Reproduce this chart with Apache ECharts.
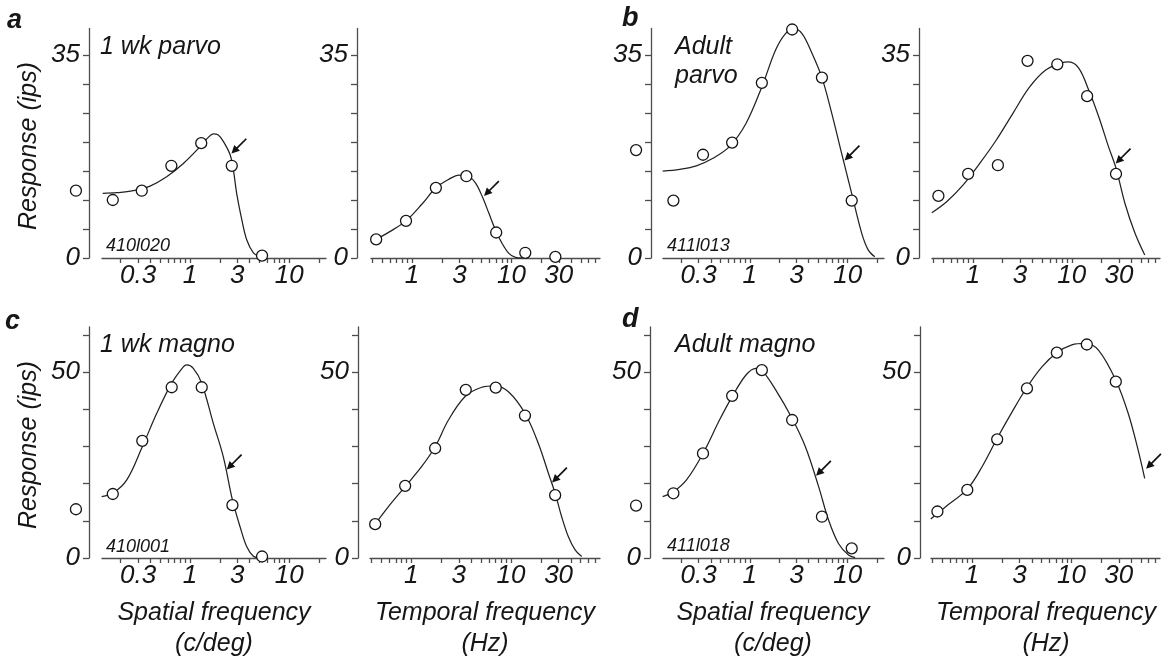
<!DOCTYPE html>
<html><head><meta charset="utf-8">
<script src="https://cdn.jsdelivr.net/npm/echarts@6/dist/echarts.min.js"></script>
<style>html,body{margin:0;padding:0;background:#fff}#c{width:1163px;height:663px}</style>
</head><body><div id="c"></div>
<script>
// ---------- axis ticks / labels ----------
const spatialTicks = [0.2,0.3,0.4,0.5,0.6,0.7,0.8,0.9,1,2,3,4,5,6,7,8,9,10,20];
const spatialLabels = [0.3,1,3,10];
const temporalTicks = [0.4,0.5,0.6,0.7,0.8,0.9,1,2,3,4,5,6,7,8,9,10,20,30,40,50,60,70];
const temporalLabels = [1,3,10,30];
const parvoYTicks = [0,5,10,15,20,25,30,35];
const parvoYLabels = [0,35];
const magnoYTicks = [0,10,20,30,40,50,60];
const magnoYLabels = [0,50];

// ---------- a: 1 wk parvo ----------
const aSpatialPts = [[0.167,10.0],[0.327,11.6],[0.65,15.9],[1.30,19.8],[2.64,15.9],[5.33,0.4]];
const aSpatialBlank = [[0.071,11.6]];
const aSpatialFit = [[0.132,11.15],[0.183,11.26],[0.269,11.6],[0.396,12.4],[0.583,14.0],[0.858,16.3],[1.264,19.2],[1.53,20.8],[1.72,21.4],[1.93,21.2],[2.17,20.1],[2.54,17.8],[2.74,15.2],[2.96,11.1],[3.33,6.6],[3.74,3.1],[4.36,0.9],[5.09,0.2]];
const aSpatialArrow = [[2.62,18.0]];
const aTemporalPts = [[0.435,3.2],[0.869,6.4],[1.736,12.1],[3.52,14.1],[7.03,4.4],[13.8,0.9],[27.7,0.2]];
const aTemporalFit = [[0.435,3.2],[0.591,4.5],[0.869,6.4],[1.274,9.4],[1.736,12.1],[2.36,13.6],[2.97,14.3],[3.74,14.0],[4.36,12.9],[5.09,10.6],[5.94,7.7],[6.93,4.8],[8.07,2.5],[9.42,0.8],[11.0,0.1],[12.8,0]];
const aTemporalArrow = [[5.3,10.7]];

// ---------- b: adult parvo ----------
const bSpatialPts = [[0.166,9.9],[0.333,17.8],[0.661,19.9],[1.329,30.2],[2.71,39.4],[5.46,31.1],[11.0,9.9]];
const bSpatialBlank = [[0.069,18.6]];
const bSpatialFit = [[0.129,15.0],[0.193,15.3],[0.285,15.9],[0.421,17.2],[0.62,19.2],[0.915,23.2],[1.329,29.5],[1.84,35.9],[2.32,38.7],[2.82,39.5],[3.42,38.7],[4.32,35.3],[5.46,31.1],[6.89,24.9],[8.69,18.0],[11.0,11.1],[13.9,4.3],[16.2,1.4],[18.9,0.2]];
const bSpatialArrow = [[9.3,16.8]];
const bTemporalPts = [[0.448,10.7],[0.895,14.5],[1.79,16.0],[3.57,34.0],[7.14,33.4],[14.3,27.9],[28.0,14.5]];
const bTemporalFit = [[0.384,7.8],[0.543,9.7],[0.798,12.6],[1.172,16.3],[1.72,20.3],[2.53,24.9],[3.72,29.4],[5.45,32.4],[8.01,33.7],[9.35,33.8],[11.8,32.7],[14.8,29.0],[18.7,24.4],[23.5,19.2],[28.0,15.5],[34.5,9.4],[43.5,4.3],[54.7,0.5]];
const bTemporalArrow = [[27.8,16.3]];

// ---------- c: 1 wk magno ----------
const cSpatialPts = [[0.167,17.2],[0.331,31.5],[0.655,45.9],[1.315,45.9],[2.68,14.2],[5.33,0.4]];
const cSpatialBlank = [[0.071,13.1]];
const cSpatialFit = [[0.129,16.5],[0.167,17.4],[0.231,21.0],[0.331,29.9],[0.463,38.9],[0.655,47.0],[0.858,51.4],[0.929,51.9],[1.082,51.0],[1.315,47.0],[1.72,36.2],[2.17,27.2],[2.68,15.6],[3.20,8.4],[3.74,3.0],[4.36,0.5],[5.09,0.1]];
const cSpatialArrow = [[2.35,23.8]];
const cTemporalPts = [[0.435,9.1],[0.869,19.4],[1.736,29.5],[3.52,45.2],[7.03,45.8],[13.8,38.3],[27.7,16.9]];
const cTemporalFit = [[0.435,9.1],[0.591,13.8],[0.869,19.2],[1.274,24.6],[1.736,29.9],[2.36,37.1],[3.47,43.4],[5.09,45.9],[6.93,46.3],[9.42,44.7],[13.8,38.9],[18.8,30.8],[23.7,22.8],[27.7,17.4],[32.2,11.1],[37.6,5.7],[43.9,2.2],[51.1,0.4]];
const cTemporalArrow = [[25.8,20.3]];

// ---------- d: adult magno ----------
const dSpatialPts = [[0.166,17.4],[0.333,28.1],[0.661,43.6],[1.329,50.5],[2.71,37.1],[5.46,11.1],[11.0,2.6]];
const dSpatialBlank = [[0.069,14.1]];
const dSpatialFit = [[0.129,16.5],[0.166,17.8],[0.226,21.0],[0.333,28.1],[0.491,37.1],[0.661,43.4],[0.915,49.2],[1.156,51.0],[1.329,50.5],[1.84,45.2],[2.71,37.5],[3.70,29.9],[5.05,19.2],[6.38,10.2],[8.05,3.9],[10.2,0.8],[11.9,0.1]];
const dSpatialArrow = [[4.75,22.1]];
const dTemporalPts = [[0.448,12.5],[0.895,18.3],[1.79,31.9],[3.57,45.6],[7.14,55.2],[14.3,57.4],[28.0,47.4]];
const dTemporalFit = [[0.384,10.5],[0.543,13.8],[0.895,18.5],[1.265,24.6],[1.79,32.2],[2.53,39.3],[3.57,45.9],[5.05,51.4],[7.14,55.2],[10.1,57.3],[13.7,57.7],[18.7,55.9],[28.0,47.8],[37.3,38.9],[47.0,29.0],[54.7,21.4]];
const dTemporalArrow = [[56.5,24.0]];

// ---------- layout / styling ----------
const FONT = '"Liberation Sans", Arial, Helvetica, sans-serif';
const INK = '#161616';
const AXIS = '#4d4d4d';
const SPATIAL_RANGE = [0.13, 23.5];
const TEMPORAL_RANGE = [0.386, 78];
const PARVO_MAX = 39.57;
const MAGNO_MAX = 62.1;

const panels = [
  {g:{left:102,width:224,top:28.5,height:229.5}, off:13, kind:'s', row:'p', pts:aSpatialPts, blank:aSpatialBlank, fit:aSpatialFit, arrow:aSpatialArrow},
  {g:{left:371,width:229,top:28.5,height:229.5}, off:14, kind:'t', row:'p', pts:aTemporalPts, blank:[], fit:aTemporalFit, arrow:aTemporalArrow},
  {g:{left:663,width:221,top:28.5,height:229.5}, off:12, kind:'s', row:'p', pts:bSpatialPts, blank:bSpatialBlank, fit:bSpatialFit, arrow:bSpatialArrow},
  {g:{left:932,width:228,top:28.5,height:229.5}, off:13, kind:'t', row:'p', pts:bTemporalPts, blank:[], fit:bTemporalFit, arrow:bTemporalArrow},
  {g:{left:102,width:224,top:327,height:231}, off:13, kind:'s', row:'m', pts:cSpatialPts, blank:cSpatialBlank, fit:cSpatialFit, arrow:cSpatialArrow},
  {g:{left:370,width:230,top:327,height:231}, off:12, kind:'t', row:'m', pts:cTemporalPts, blank:[], fit:cTemporalFit, arrow:cTemporalArrow},
  {g:{left:663,width:221,top:327,height:231}, off:13, kind:'s', row:'m', pts:dSpatialPts, blank:dSpatialBlank, fit:dSpatialFit, arrow:dSpatialArrow},
  {g:{left:931,width:229,top:327,height:231}, off:11, kind:'t', row:'m', pts:dTemporalPts, blank:[], fit:dTemporalFit, arrow:dTemporalArrow}
];

const fmt = v => String(+Number(v).toPrecision(3));
const axisLineStyle = {color: AXIS, width: 1.3};
const tickLabelStyle = {fontSize: 26, fontStyle: 'italic', fontFamily: FONT, color: INK};

const grid = [], xAxis = [], yAxis = [], series = [];
panels.forEach((p, i) => {
  grid.push(Object.assign({containLabel: false}, p.g));
  const sp = p.kind === 's';
  const range = sp ? SPATIAL_RANGE : TEMPORAL_RANGE;
  xAxis.push({
    gridIndex: i, type: 'log', logBase: 10, min: range[0], max: range[1],
    axisLine: {show: true, onZero: false, lineStyle: axisLineStyle},
    axisTick: {show: true, inside: false, length: 5, customValues: sp ? spatialTicks : temporalTicks, lineStyle: axisLineStyle},
    axisLabel: Object.assign({show: true, margin: 5, customValues: sp ? spatialLabels : temporalLabels, formatter: fmt}, tickLabelStyle),
    splitLine: {show: false}, minorTick: {show: false}, minorSplitLine: {show: false}
  });
  const pv = p.row === 'p';
  yAxis.push({
    gridIndex: i, type: 'value', min: 0, max: pv ? PARVO_MAX : MAGNO_MAX, offset: p.off,
    axisLine: {show: true, onZero: false, lineStyle: axisLineStyle},
    axisTick: {show: true, inside: false, length: 6, customValues: pv ? parvoYTicks : magnoYTicks, lineStyle: axisLineStyle},
    axisLabel: Object.assign({show: true, margin: 9, customValues: pv ? parvoYLabels : magnoYLabels, formatter: fmt}, tickLabelStyle),
    splitLine: {show: false}
  });
  series.push({
    type: 'line', xAxisIndex: i, yAxisIndex: i, data: p.fit, smooth: 0.35,
    showSymbol: false, symbol: 'none', clip: false, silent: true, z: 2,
    lineStyle: {color: '#222', width: 1.25}
  });
  series.push({
    type: 'scatter', xAxisIndex: i, yAxisIndex: i, data: p.pts.concat(p.blank),
    symbol: 'circle', symbolSize: 11, clip: false, silent: true, z: 3,
    itemStyle: {color: '#fff', borderColor: '#151515', borderWidth: 1.3, opacity: 1}
  });
  series.push({
    type: 'custom', xAxisIndex: i, yAxisIndex: i, data: p.arrow, clip: false, silent: true, z: 4,
    renderItem: (params, api) => {
      const t = api.coord([api.value(0), api.value(1)]);
      const ux = Math.SQRT1_2, uy = -Math.SQRT1_2;   // direction tip -> tail
      const L = 21, H = 8, W = 4;
      const bx = t[0] + ux * H, by = t[1] + uy * H;
      const px = -uy, py = ux;
      return {type: 'group', children: [
        {type: 'line', shape: {x1: bx - ux, y1: by - uy, x2: t[0] + ux * L, y2: t[1] + uy * L},
         style: {stroke: '#111', lineWidth: 1.7}},
        {type: 'polygon', shape: {points: [[t[0], t[1]], [bx + px * W, by + py * W], [bx - px * W, by - py * W]]},
         style: {fill: '#111'}}
      ]};
    }
  });
});

function txt(text, x, y, opts) {
  return Object.assign({type: 'text', x: x, y: y, silent: true,
    style: Object.assign({text: text, fill: INK, font: 'italic 25px ' + FONT, align: 'left', verticalAlign: 'middle'}, opts || {})});
}
const graphic = [
  txt('a', 7, 21, {font: 'italic bold 27px ' + FONT}),
  txt('b', 622, 19, {font: 'italic bold 27px ' + FONT}),
  txt('c', 5, 322, {font: 'italic bold 27px ' + FONT}),
  txt('d', 622, 320, {font: 'italic bold 27px ' + FONT}),
  Object.assign(txt('Response (ips)', 29, 146, {align: 'center'}), {rotation: Math.PI / 2}),
  Object.assign(txt('Response (ips)', 29, 445, {align: 'center'}), {rotation: Math.PI / 2}),
  txt('1 wk parvo', 100, 47),
  txt('Adult', 675, 47),
  txt('parvo', 675, 76),
  txt('1 wk magno', 100, 345),
  txt('Adult magno', 675, 345),
  txt('410l020', 106, 246, {font: 'italic 18px ' + FONT}),
  txt('411l013', 667, 246, {font: 'italic 18px ' + FONT}),
  txt('410l001', 106, 547, {font: 'italic 18px ' + FONT}),
  txt('411l018', 667, 546, {font: 'italic 18px ' + FONT}),
  txt('Spatial frequency', 214, 613, {align: 'center'}),
  txt('(c/deg)', 214, 644, {align: 'center'}),
  txt('Temporal frequency', 485, 613, {align: 'center'}),
  txt('(Hz)', 485, 644, {align: 'center'}),
  txt('Spatial frequency', 773, 613, {align: 'center'}),
  txt('(c/deg)', 773, 644, {align: 'center'}),
  txt('Temporal frequency', 1046, 613, {align: 'center'}),
  txt('(Hz)', 1046, 644, {align: 'center'})
];

const chart = echarts.init(document.getElementById('c'), null, {renderer: 'canvas', width: 1163, height: 663});
chart.setOption({
  animation: false,
  backgroundColor: '#fff',
  grid: grid, xAxis: xAxis, yAxis: yAxis, series: series, graphic: graphic
});
</script>
</body></html>
